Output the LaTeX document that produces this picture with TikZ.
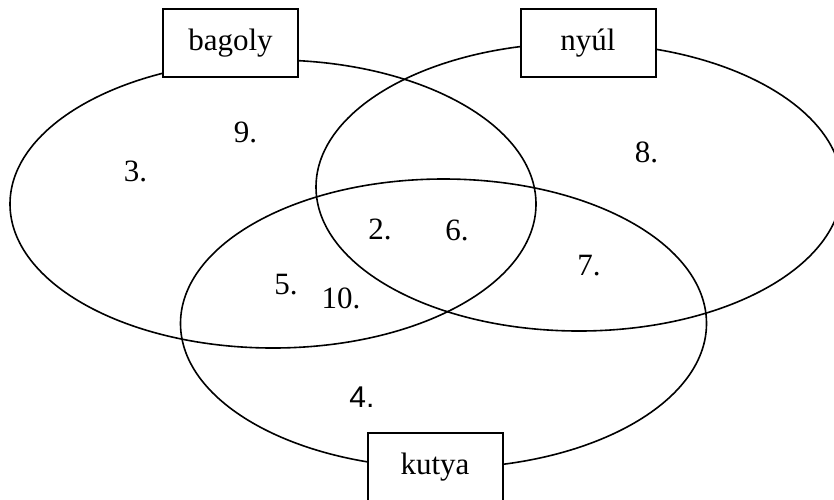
\documentclass[tikz,border=0pt]{standalone}
\usepackage{fontspec}
\setmainfont{Liberation Serif}
\newfontfamily\numsans{Liberation Sans}
\begin{document}
\begin{tikzpicture}[x=1pt,y=-1pt,
  setbox/.style={draw,line width=2pt,fill=white,minimum width=135pt,minimum height=68pt,inner sep=0pt},
  member/.style={inner sep=0pt},
  font=\fontsize{31}{36}\selectfont]
  \clip (0,0) rectangle (834,499);
  % the three sets
  \draw[line width=1.6pt] (273,204) ellipse [x radius=263,y radius=144];
  \draw[line width=1.6pt] (579,187) ellipse [x radius=263,y radius=144];
  \draw[line width=1.6pt] (443.5,323.5) ellipse [x radius=263,y radius=144.5];
  % set names
  \node (bag) at (230.5,43) [setbox] {bagoly};
  \node (nyul) at (588,43) [setbox] {nyúl};
  \node (kut) at (435,467) [setbox] {kutya};
  % members
  \node (n3) at (135.5,171.5) [member] {3.};
  \node (n9) at (245.5,132.5) [member] {9.};
  \node (n8) at (646.5,152.5) [member] {8.};
  \node (n2) at (380,229) [member] {2.};
  \node (n6) at (457,230) [member] {6.};
  \node (n7) at (589,266) [member] {7.};
  \node (n5) at (286,285) [member] {5.};
  \node (n10) at (341,298) [member] {10.};
  \node (n4) at (362,397) [member,font=\numsans\fontsize{30}{36}\selectfont] {4.};
\end{tikzpicture}
\end{document}
